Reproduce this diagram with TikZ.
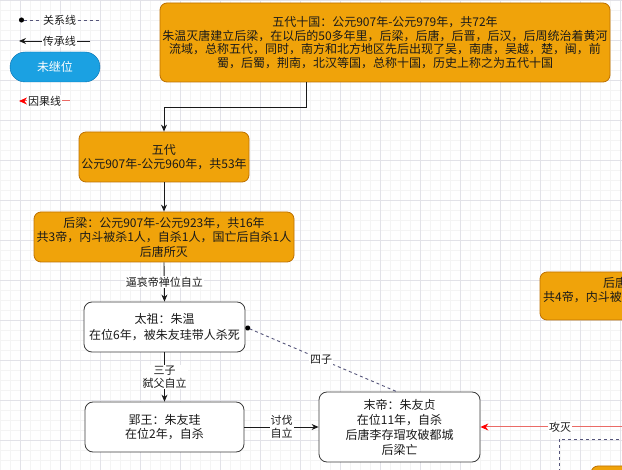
\documentclass[tikz,border=0pt]{standalone}
\usepackage{fontspec}
\setmainfont{Noto Sans CJK SC}
\usetikzlibrary{arrows.meta,calc}
\definecolor{orgfill}{HTML}{F0A30A}
\definecolor{orgline}{HTML}{BD7000}
\definecolor{bluefill}{HTML}{1BA1E2}
\definecolor{blueline}{HTML}{006EAF}
\definecolor{redline}{HTML}{EA6B66}
\definecolor{redtip}{HTML}{FF0000}
\definecolor{ink}{HTML}{1A1A1A}
\definecolor{gridmin}{HTML}{F4F4F4}
\definecolor{gridmaj}{HTML}{E2E2E8}
\definecolor{dashcol}{HTML}{55557A}
\begin{document}
\begin{tikzpicture}[x=1pt,y=-1pt,
 every node/.style={font=\fontsize{12}{14.5}\selectfont, text=ink, inner sep=0pt},
 orangebox/.style={draw=orgline, fill=orgfill, rounded corners=7pt, align=center, line width=0.8pt},
 whitebox/.style={draw=ink!85, fill=white, rounded corners=8pt, align=center, line width=0.8pt},
 conn/.style={draw=ink, line width=0.9pt},
 arr/.style={conn, -{Stealth[length=7pt,width=6pt]}},
 redarr/.style={draw=redline, line width=1pt, -{Stealth[length=8pt,width=7pt,color=redtip]}},
 reldash/.style={draw=dashcol, line width=0.9pt, dash pattern=on 3pt off 3pt},
 lbl/.style={fill=white, align=center, inner sep=1pt, font=\fontsize{11}{12.5}\selectfont},
]
\useasboundingbox (0,0) rectangle (622,470);
\clip (0,0) rectangle (622,470);
\fill[white] (0,0) rectangle (622,470);
% grid
\foreach \x in {0,10,...,620} \draw[gridmin, line width=0.5pt] (\x,0) -- (\x,470);
\foreach \y in {0,10,...,470} \draw[gridmin, line width=0.5pt] (0,\y) -- (622,\y);
\foreach \x in {20,60,...,620} \draw[gridmaj, line width=0.5pt] (\x,0) -- (\x,470);
\foreach \y in {0,40,...,440} \draw[gridmaj, line width=0.5pt] (0,\y) -- (622,\y);

% legend
\coordinate (l1a) at (19,20);
\coordinate (l1b) at (100,20);
\draw[reldash, {Circle[length=5pt,color=black]}-] (l1a) -- node[lbl, pos=0.5]{关系线} (l1b);
\coordinate (l2a) at (90,41);
\coordinate (l2b) at (19,41);
\draw[arr] (l2a) -- node[lbl, pos=0.43]{传承线} (l2b);
\node[draw=blueline, fill=bluefill, rounded corners=15pt, minimum width=90pt, minimum height=30pt, text=white] (pill) at (55,67) {未继位};
\coordinate (l3a) at (70,101);
\coordinate (l3b) at (19,101);
\draw[redarr] (l3a) -- node[lbl, pos=0.5]{因果线} (l3b);

% main nodes
\node[orangebox, minimum width=450pt, minimum height=79pt, font=\fontsize{12}{13.5}\selectfont] (top) at (385,42.5)
 {五代十国：公元907年-公元979年，共72年\\
  朱温灭唐建立后梁，在以后的50多年里，后梁，后唐，后晋，后汉，后周统治着黄河\\
  流域，总称五代，同时，南方和北方地区先后出现了吴，南唐，吴越，楚，闽，前\\
  蜀，后蜀，荆南，北汉等国，总称十国，历史上称之为五代十国};
\node[orangebox, minimum width=170pt, minimum height=50pt] (wudai) at (164,157)
 {五代\\公元907年-公元960年，共53年};
\node[orangebox, minimum width=260pt, minimum height=50pt] (houliang) at (164,237)
 {后梁：公元907年-公元923年，共16年\\共3帝，内斗被杀1人，自杀1人，国亡后自杀1人\\后唐所灭};
\node[whitebox, minimum width=161pt, minimum height=50pt, font=\fontsize{12}{16.5}\selectfont] (taizu) at (164.5,327)
 {太祖：朱温\\在位6年，被朱友珪带人杀死};
\node[whitebox, minimum width=159pt, minimum height=50pt] (yingwang) at (164.5,427)
 {郢王：朱友珪\\在位2年，自杀};
\node[whitebox, minimum width=161pt, minimum height=70pt, font=\fontsize{12}{15}\selectfont] (modi) at (399.5,427)
 {末帝：朱友贞\\在位11年，自杀\\后唐李存瑁攻破都城\\后梁亡};

% partial nodes at the right edge
\path[orangebox] (540,272) rectangle (720,320);
\node[anchor=west] (houtang1) at (603,283) {后唐};
\node[anchor=west] (houtang2) at (543,297.5) {共4帝，内斗被};
\draw[reldash] (559,520) -- (559,439) -- (720,439);
\path[orangebox] (591,466) rectangle (720,520);

% connectors
\draw[arr] ([xshift=147pt]top.south west) -- ++(0,25) -| (wudai.north);
\draw[arr] (wudai.south) -- (houliang.north);
\draw[arr] (houliang.south) -- node[lbl]{逼哀帝禅位自立} (taizu.north);
\draw[arr] (taizu.south) -- node[lbl]{三子\\弑父自立} (yingwang.north);
\draw[arr] (yingwang.east) -- node[lbl]{讨伐\\自立} (modi.west);
\draw[reldash, {Circle[length=5pt,color=black]}-] (taizu.east) -- node[lbl]{四子} ([xshift=78pt]modi.north west);
\coordinate (redsrc) at (640,427);
\draw[redarr] (redsrc) -- node[lbl]{攻灭} (modi.east);
\end{tikzpicture}
\end{document}
